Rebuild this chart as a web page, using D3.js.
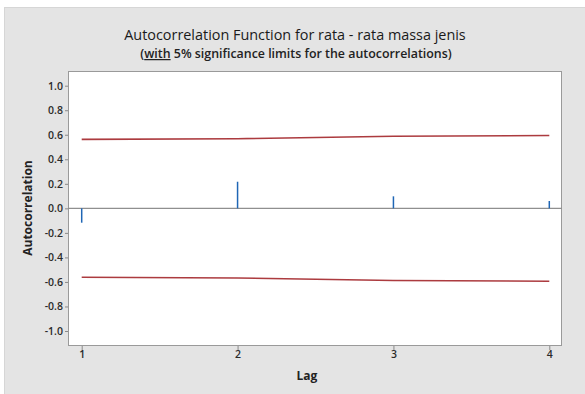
<!DOCTYPE html>
<html><head><meta charset="utf-8">
<script src="https://cdn.jsdelivr.net/npm/d3@7"></script>
<style>body{margin:0;background:#fff;}svg{display:block;}</style>
</head><body><svg id="c" width="585" height="394"></svg>
<script>
const lags = [1, 2, 3, 4];
const acf = [-0.117, 0.217, 0.098, 0.06];
const upperLimit = [0.562, 0.568, 0.588, 0.594];
const lowerLimit = [-0.562, -0.568, -0.588, -0.594];
const yTicks = [-1.0, -0.8, -0.6, -0.4, -0.2, 0.0, 0.2, 0.4, 0.6, 0.8, 1.0];
const title = "Autocorrelation Function for rata - rata massa jenis";
const subtitleWith = "with";
const subtitleRest = " 5% significance limits for the autocorrelations)";
const xLabel = "Lag", yLabel = "Autocorrelation";

const svg = d3.select("#c");
const font = "'Open Sans', 'Noto Sans', sans-serif";
// outer panel
svg.append("rect").attr("x",4.5).attr("y",7.5).attr("width",590).attr("height",400)
  .attr("fill","#e4e4e4").attr("stroke","#d6d6d6");

const pl = 68, pr = 562, pt = 71, pb = 346;
const x = d3.scaleLinear().domain([1,4]).range([81.7,549.3]);
const y = d3.scaleLinear().domain([-1,1]).range([331,85.7]);

svg.append("rect").attr("x",pl+0.5).attr("y",pt+0.5).attr("width",pr-pl-1).attr("height",pb-pt-1)
  .attr("fill","#fff").attr("stroke","#9a9a9a");

// axes
const yAxis = svg.append("g").attr("transform",`translate(${pl},0)`)
  .call(d3.axisLeft(y).tickValues(yTicks).tickFormat(d3.format(".1f")).tickSize(3).tickPadding(2));
yAxis.select(".domain").remove();
yAxis.selectAll("line").attr("stroke","#8a8a8a");
yAxis.selectAll("text").attr("font-family",font).attr("font-size",10.5).attr("font-weight",600).attr("fill","#2a2a2a")
  .text(d=>d3.format(".1f")(d).replace("−","-"));

const xAxis = svg.append("g").attr("transform",`translate(0,${pb})`)
  .call(d3.axisBottom(x).tickValues(lags).tickFormat(d3.format("d")).tickSize(4).tickPadding(1));
xAxis.select(".domain").remove();
xAxis.selectAll("line").attr("stroke","#8a8a8a");
xAxis.selectAll("text").attr("font-family",font).attr("font-size",10.5).attr("font-weight",600).attr("fill","#2a2a2a");

// zero line
svg.append("line").attr("x1",pl).attr("x2",pr).attr("y1",y(0)).attr("y2",y(0))
  .attr("stroke","#8f8f8f").attr("stroke-width",1.2);

// limits
const line = d3.line().x((d,i)=>x(lags[i])).y(d=>y(d));
[upperLimit, lowerLimit].forEach(arr=>{
  svg.append("path").attr("d",line(arr)).attr("fill","none")
    .attr("stroke","#a3262a").attr("stroke-width",1.6).attr("stroke-opacity",0.9);
});

// stems
svg.selectAll(".stem").data(acf).enter().append("line")
  .attr("x1",(d,i)=>x(lags[i])).attr("x2",(d,i)=>x(lags[i]))
  .attr("y1",y(0)).attr("y2",d=>y(d))
  .attr("stroke","#1f66b5").attr("stroke-width",1.5);

// titles
svg.append("text").attr("x",295).attr("y",40).attr("text-anchor","middle")
  .attr("font-family",font).attr("font-size",14.4).attr("font-weight",500).attr("fill","#1a1a1a").text(title);
const st = svg.append("text").attr("x",296).attr("y",58).attr("text-anchor","middle")
  .attr("font-family",font).attr("font-size",12.4).attr("font-weight",600).attr("fill","#222");
st.append("tspan").text("(");
st.append("tspan").text(subtitleWith).attr("text-decoration","underline")
  .style("text-decoration-color","#3a6fc4");
st.append("tspan").text(subtitleRest);

svg.append("text").attr("x",307).attr("y",380).attr("text-anchor","middle")
  .attr("font-family",font).attr("font-size",12).attr("font-weight",700).attr("fill","#222").text(xLabel);
svg.append("text").attr("transform","translate(32,208) rotate(-90)").attr("text-anchor","middle")
  .attr("font-family",font).attr("font-size",12).attr("font-weight",700).attr("fill","#222").text(yLabel);
</script></body></html>
